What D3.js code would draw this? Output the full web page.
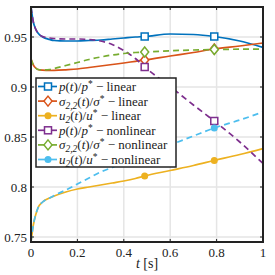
<!DOCTYPE html>
<html>
<head>
<meta charset="utf-8">
<script src="https://cdn.jsdelivr.net/npm/d3@7"></script>
<style>
  body { margin: 0; background: #fff; }
  svg text { font-family: "Liberation Serif", "DejaVu Serif", serif; }
</style>
</head>
<body>
<div id="chart"></div>
<script>
// time samples shared by every series
const times = [0, 0.01, 0.02, 0.03, 0.05, 0.08, 0.1, 0.15, 0.2, 0.25, 0.3, 0.35, 0.4, 0.45, 0.49, 0.6, 0.7, 0.79, 0.9, 1.0];
const markerTimes = [0.49, 0.79];

const pLinear     = [0.98, 0.965, 0.958, 0.954, 0.950, 0.9475, 0.9465, 0.946, 0.946, 0.9465, 0.947, 0.948, 0.949, 0.950, 0.9505, 0.953, 0.9525, 0.9505, 0.946, 0.9395];
const sigLinear   = [0.928, 0.922, 0.919, 0.9175, 0.9168, 0.9165, 0.9166, 0.9172, 0.918, 0.9195, 0.921, 0.9225, 0.924, 0.9257, 0.927, 0.931, 0.9345, 0.938, 0.941, 0.944];
const uLinear     = [0.745, 0.762, 0.772, 0.779, 0.785, 0.789, 0.791, 0.795, 0.798, 0.800, 0.802, 0.804, 0.806, 0.8085, 0.811, 0.8165, 0.8215, 0.8265, 0.8325, 0.8385];
const pNonlinear  = [0.98, 0.965, 0.958, 0.954, 0.9505, 0.949, 0.9485, 0.948, 0.948, 0.9475, 0.946, 0.9425, 0.9365, 0.9285, 0.920, 0.9005, 0.882, 0.866, 0.845, 0.8235];
const sigNonlinear = [0.928, 0.922, 0.919, 0.9175, 0.917, 0.9175, 0.9185, 0.9215, 0.9245, 0.9275, 0.930, 0.932, 0.9335, 0.9345, 0.935, 0.9362, 0.937, 0.9375, 0.9378, 0.938];
const uNonlinear  = [0.745, 0.762, 0.772, 0.779, 0.785, 0.789, 0.7915, 0.797, 0.803, 0.809, 0.815, 0.8195, 0.824, 0.828, 0.832, 0.842, 0.851, 0.859, 0.867, 0.875];

const xTicks = [0, 0.2, 0.4, 0.6, 0.8, 1];
const yTicks = [0.75, 0.8, 0.85, 0.9, 0.95];

const series = [
  { name: "p", den: "p", sub: null, kind: "linear", values: pLinear, color: "#0072BD", dash: null, marker: "square" },
  { name: "σ", den: "σ", sub: "2,2", kind: "linear", values: sigLinear, color: "#D95319", dash: null, marker: "diamond" },
  { name: "u", den: "u", sub: "2", kind: "linear", values: uLinear, color: "#EDB120", dash: null, marker: "dot" },
  { name: "p", den: "p", sub: null, kind: "nonlinear", values: pNonlinear, color: "#7E2F8E", dash: "6,4", marker: "square" },
  { name: "σ", den: "σ", sub: "2,2", kind: "nonlinear", values: sigNonlinear, color: "#77AC30", dash: "6,4", marker: "diamond" },
  { name: "u", den: "u", sub: "2", kind: "nonlinear", values: uNonlinear, color: "#4DBEEE", dash: "6,4", marker: "dot" }
];

const width = 275, height = 275;
const margin = { left: 31, right: 12, top: 7, bottom: 33 };

const svg = d3.select("#chart").append("svg")
  .attr("width", width).attr("height", height);

const x = d3.scaleLinear().domain([0, 1]).range([margin.left, width - margin.right]);
const y = d3.scaleLinear().domain([0.745, 0.98]).range([height - margin.bottom, margin.top]);

// grid
svg.append("g").selectAll("line").data(xTicks).join("line")
  .attr("x1", d => x(d)).attr("x2", d => x(d))
  .attr("y1", y.range()[0]).attr("y2", y.range()[1])
  .attr("stroke", "#e5e5e5").attr("stroke-width", 1.5);
svg.append("g").selectAll("line").data(yTicks).join("line")
  .attr("y1", d => y(d)).attr("y2", d => y(d))
  .attr("x1", x.range()[0]).attr("x2", x.range()[1])
  .attr("stroke", "#e5e5e5").attr("stroke-width", 1.5);

svg.append("clipPath").attr("id", "clip").append("rect")
  .attr("x", x(0)).attr("y", y(0.98))
  .attr("width", x(1) - x(0)).attr("height", y(0.745) - y(0.98));

const line = d3.line()
  .x((d, i) => x(times[i]))
  .y(d => y(d))
  .curve(d3.curveMonotoneX);

const plot = svg.append("g").attr("clip-path", "url(#clip)");

function drawMarker(g, type, cx, cy, color) {
  if (type === "square") {
    g.append("rect").attr("x", cx - 3.5).attr("y", cy - 3.5).attr("width", 7).attr("height", 7)
      .attr("fill", "#fff").attr("stroke", color).attr("stroke-width", 1.5);
  } else if (type === "diamond") {
    g.append("path").attr("d", `M${cx},${cy - 5}L${cx + 4},${cy}L${cx},${cy + 5}L${cx - 4},${cy}Z`)
      .attr("fill", "#fff").attr("stroke", color).attr("stroke-width", 1.5);
  } else {
    g.append("circle").attr("cx", cx).attr("cy", cy).attr("r", 3.5).attr("fill", color);
  }
}

series.forEach(s => {
  plot.append("path")
    .attr("d", line(s.values))
    .attr("fill", "none")
    .attr("stroke", s.color)
    .attr("stroke-width", 1.7)
    .attr("stroke-dasharray", s.dash);
  markerTimes.forEach(mt => {
    const i = times.indexOf(mt);
    drawMarker(plot, s.marker, x(mt), y(s.values[i]), s.color);
  });
});

// axes box and ticks (inside, all four sides)
const tickLen = 3;
const axes = svg.append("g").attr("stroke", "#222").attr("stroke-width", 1);
xTicks.forEach(t => {
  axes.append("line").attr("x1", x(t)).attr("x2", x(t)).attr("y1", y.range()[0]).attr("y2", y.range()[0] - tickLen);
  axes.append("line").attr("x1", x(t)).attr("x2", x(t)).attr("y1", y.range()[1]).attr("y2", y.range()[1] + tickLen);
});
yTicks.forEach(t => {
  axes.append("line").attr("y1", y(t)).attr("y2", y(t)).attr("x1", x.range()[0]).attr("x2", x.range()[0] + tickLen);
  axes.append("line").attr("y1", y(t)).attr("y2", y(t)).attr("x1", x.range()[1]).attr("x2", x.range()[1] - tickLen);
});
svg.append("rect")
  .attr("x", x(0)).attr("y", y(0.98))
  .attr("width", x(1) - x(0)).attr("height", y(0.745) - y(0.98))
  .attr("fill", "none").attr("stroke", "#222").attr("stroke-width", 2);

// tick labels
svg.append("g").selectAll("text").data(yTicks).join("text")
  .attr("x", x(0) - 4).attr("y", d => y(d)).attr("dy", "0.35em")
  .attr("text-anchor", "end").attr("font-size", 13).attr("fill", "#222")
  .text(d => d3.format("")(d));
svg.append("g").selectAll("text").data(xTicks).join("text")
  .attr("x", d => x(d)).attr("y", y(0.745) + 15)
  .attr("text-anchor", "middle").attr("font-size", 13).attr("fill", "#222")
  .text(d => d3.format("")(d));

const xl = svg.append("text").attr("x", (x(0) + x(1)) / 2).attr("y", height - 7)
  .attr("text-anchor", "middle").attr("font-size", 14).attr("fill", "#222");
xl.append("tspan").attr("font-style", "italic").text("t");
xl.append("tspan").text(" [s]");

// legend
const lg = svg.append("g");
lg.append("rect").attr("x", 36).attr("y", 78).attr("width", 140).attr("height", 89)
  .attr("fill", "#fff").attr("stroke", "#222").attr("stroke-width", 1.5);
series.forEach((s, i) => {
  const ly = 86.5 + i * 14.6;
  lg.append("line").attr("x1", 38).attr("x2", 57).attr("y1", ly).attr("y2", ly)
    .attr("stroke", s.color).attr("stroke-width", 1.7);
  drawMarker(lg, s.marker, 48, ly, s.color);
  const tx = lg.append("text").attr("x", 59).attr("y", ly).attr("dy", "0.35em")
    .attr("font-size", 13).attr("fill", "#222");
  tx.append("tspan").attr("font-style", "italic").text(s.name);
  if (s.sub) tx.append("tspan").attr("font-size", 9.5).attr("dy", 3).attr("font-style", "italic").text(s.sub);
  tx.append("tspan").attr("dy", s.sub ? -3 : 0).text("(");
  tx.append("tspan").attr("font-style", "italic").text("t");
  tx.append("tspan").text(")/");
  tx.append("tspan").attr("font-style", "italic").text(s.den);
  tx.append("tspan").attr("font-size", 9.5).attr("dy", -4).text("*");
  tx.append("tspan").attr("dy", 4).text(" \u2212 " + s.kind);
});
</script>
</body>
</html>
